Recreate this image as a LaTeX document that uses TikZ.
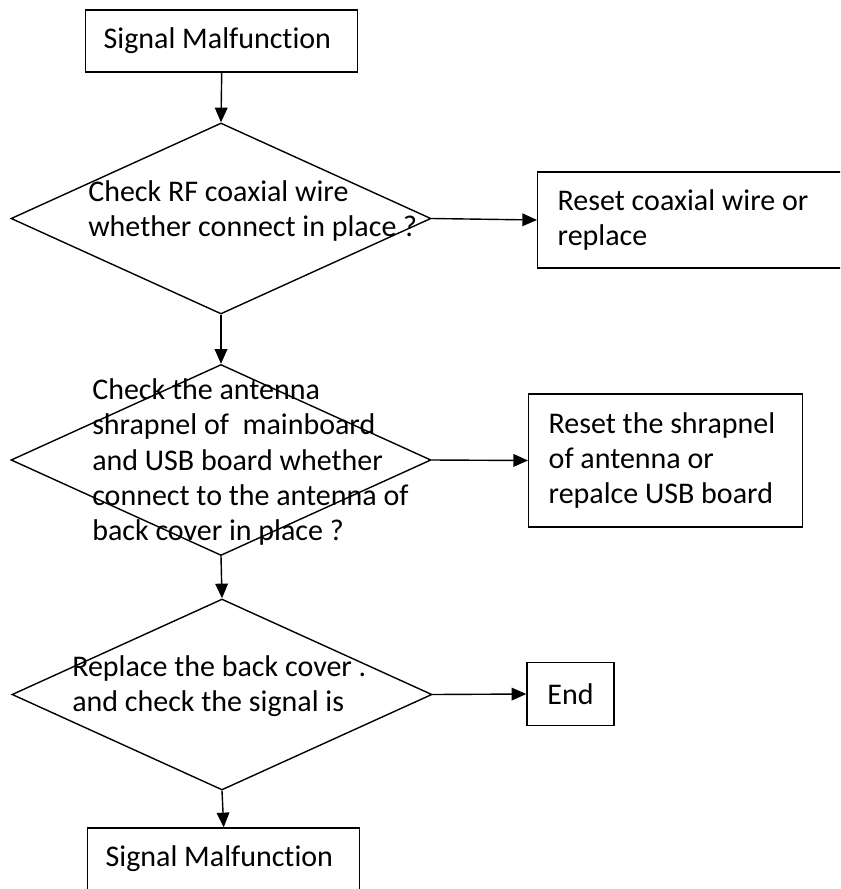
\documentclass[tikz,border=0pt]{standalone}
\usepackage{fontspec}
\setmainfont{Carlito}[Ligatures={NoCommon}]
\usetikzlibrary{shapes.geometric,arrows.meta,positioning}
\tikzset{
  stepbox/.style={draw, line width=1.05pt, rectangle, align=flush left, inner ysep=0pt,
    font=\fontsize{22.5}{26.5}\selectfont},
  testdia/.style={draw, line width=1.05pt, diamond, minimum width=315pt,
    minimum height=143.25pt, inner sep=0pt},
  testtext/.style={anchor=west, align=flush left, inner sep=0pt,
    font=\fontsize{22.5}{26.5}\selectfont},
  flowarrow/.style={line width=1.05pt, -{Triangle[length=11pt,width=9.5pt]}}
}
\begin{document}
\begin{tikzpicture}[x=0.75pt,y=-0.75pt]
                    \useasboundingbox (0,0) rectangle (840,889);
                    \clip (0,0) rectangle (840,889);
                    
                    % Drawing start box
                    \node [stepbox, anchor=west, inner xsep=13.5pt, text width=177pt,
                      minimum height=46.5pt] (start) at (85,41) {Signal Malfunction};%
                    
                    % Drawing decision RF wire
                    \node [testdia] (rfwire) at (221,218.5) {};%
                    \node [testtext] (rfwiretext) at (88,211)
                      {Check RF coaxial wire\\whether connect in place ?};%
                    
                    % Drawing box reset wire
                    \node [stepbox, anchor=west, inner xsep=15pt, text width=212pt,
                      minimum height=72pt] (resetwire) at (537,220)
                      {Reset coaxial wire or\\replace};%
                    
                    % Drawing decision shrapnel
                    \node [testdia] (shrapnel) at (221,460) {};%
                    \node [testtext] (shrapneltext) at (92,462)
                      {Check the antenna\\shrapnel of~ mainboard\\and USB board whether\\connect to the antenna of\\back cover in place ?};%
                    
                    % Drawing box reset shrapnel
                    \node [stepbox, anchor=west, inner xsep=15pt, text width=175.5pt,
                      minimum height=99.75pt] (resetshrapnel) at (528,460.5)
                      {Reset the shrapnel\\of antenna or\\repalce USB board};%
                    
                    % Drawing decision back cover
                    \node [testdia] (cover) at (222,694.5) {};%
                    \node [testtext] (covertext) at (72,686)
                      {Replace the back cover .\\and check the signal is};%
                    
                    % Drawing box end
                    \node [stepbox, align=center, inner xsep=0pt, minimum width=65.25pt,
                      minimum height=47.25pt] (finish) at (570.5,694) {End};%
                    
                    % Drawing final box
                    \node [stepbox, anchor=west, inner xsep=13.5pt, text width=177pt,
                      minimum height=46.5pt] (again) at (87,859) {Signal Malfunction};%
                    
                    % Drawing arrows
                    \draw [flowarrow] (start.south) -- (rfwire.north);%
                    \draw [flowarrow] (rfwire.east) -- (resetwire.west);%
                    \draw [flowarrow] (rfwire.south) -- (shrapnel.north);%
                    \draw [flowarrow] (shrapnel.east) -- (resetshrapnel.west);%
                    \draw [flowarrow] (shrapnel.south) -- (cover.north);%
                    \draw [flowarrow] (cover.east) -- (finish.west);%
                    \draw [flowarrow] (cover.south) -- (again.north);%
                \end{tikzpicture}
\end{document}
